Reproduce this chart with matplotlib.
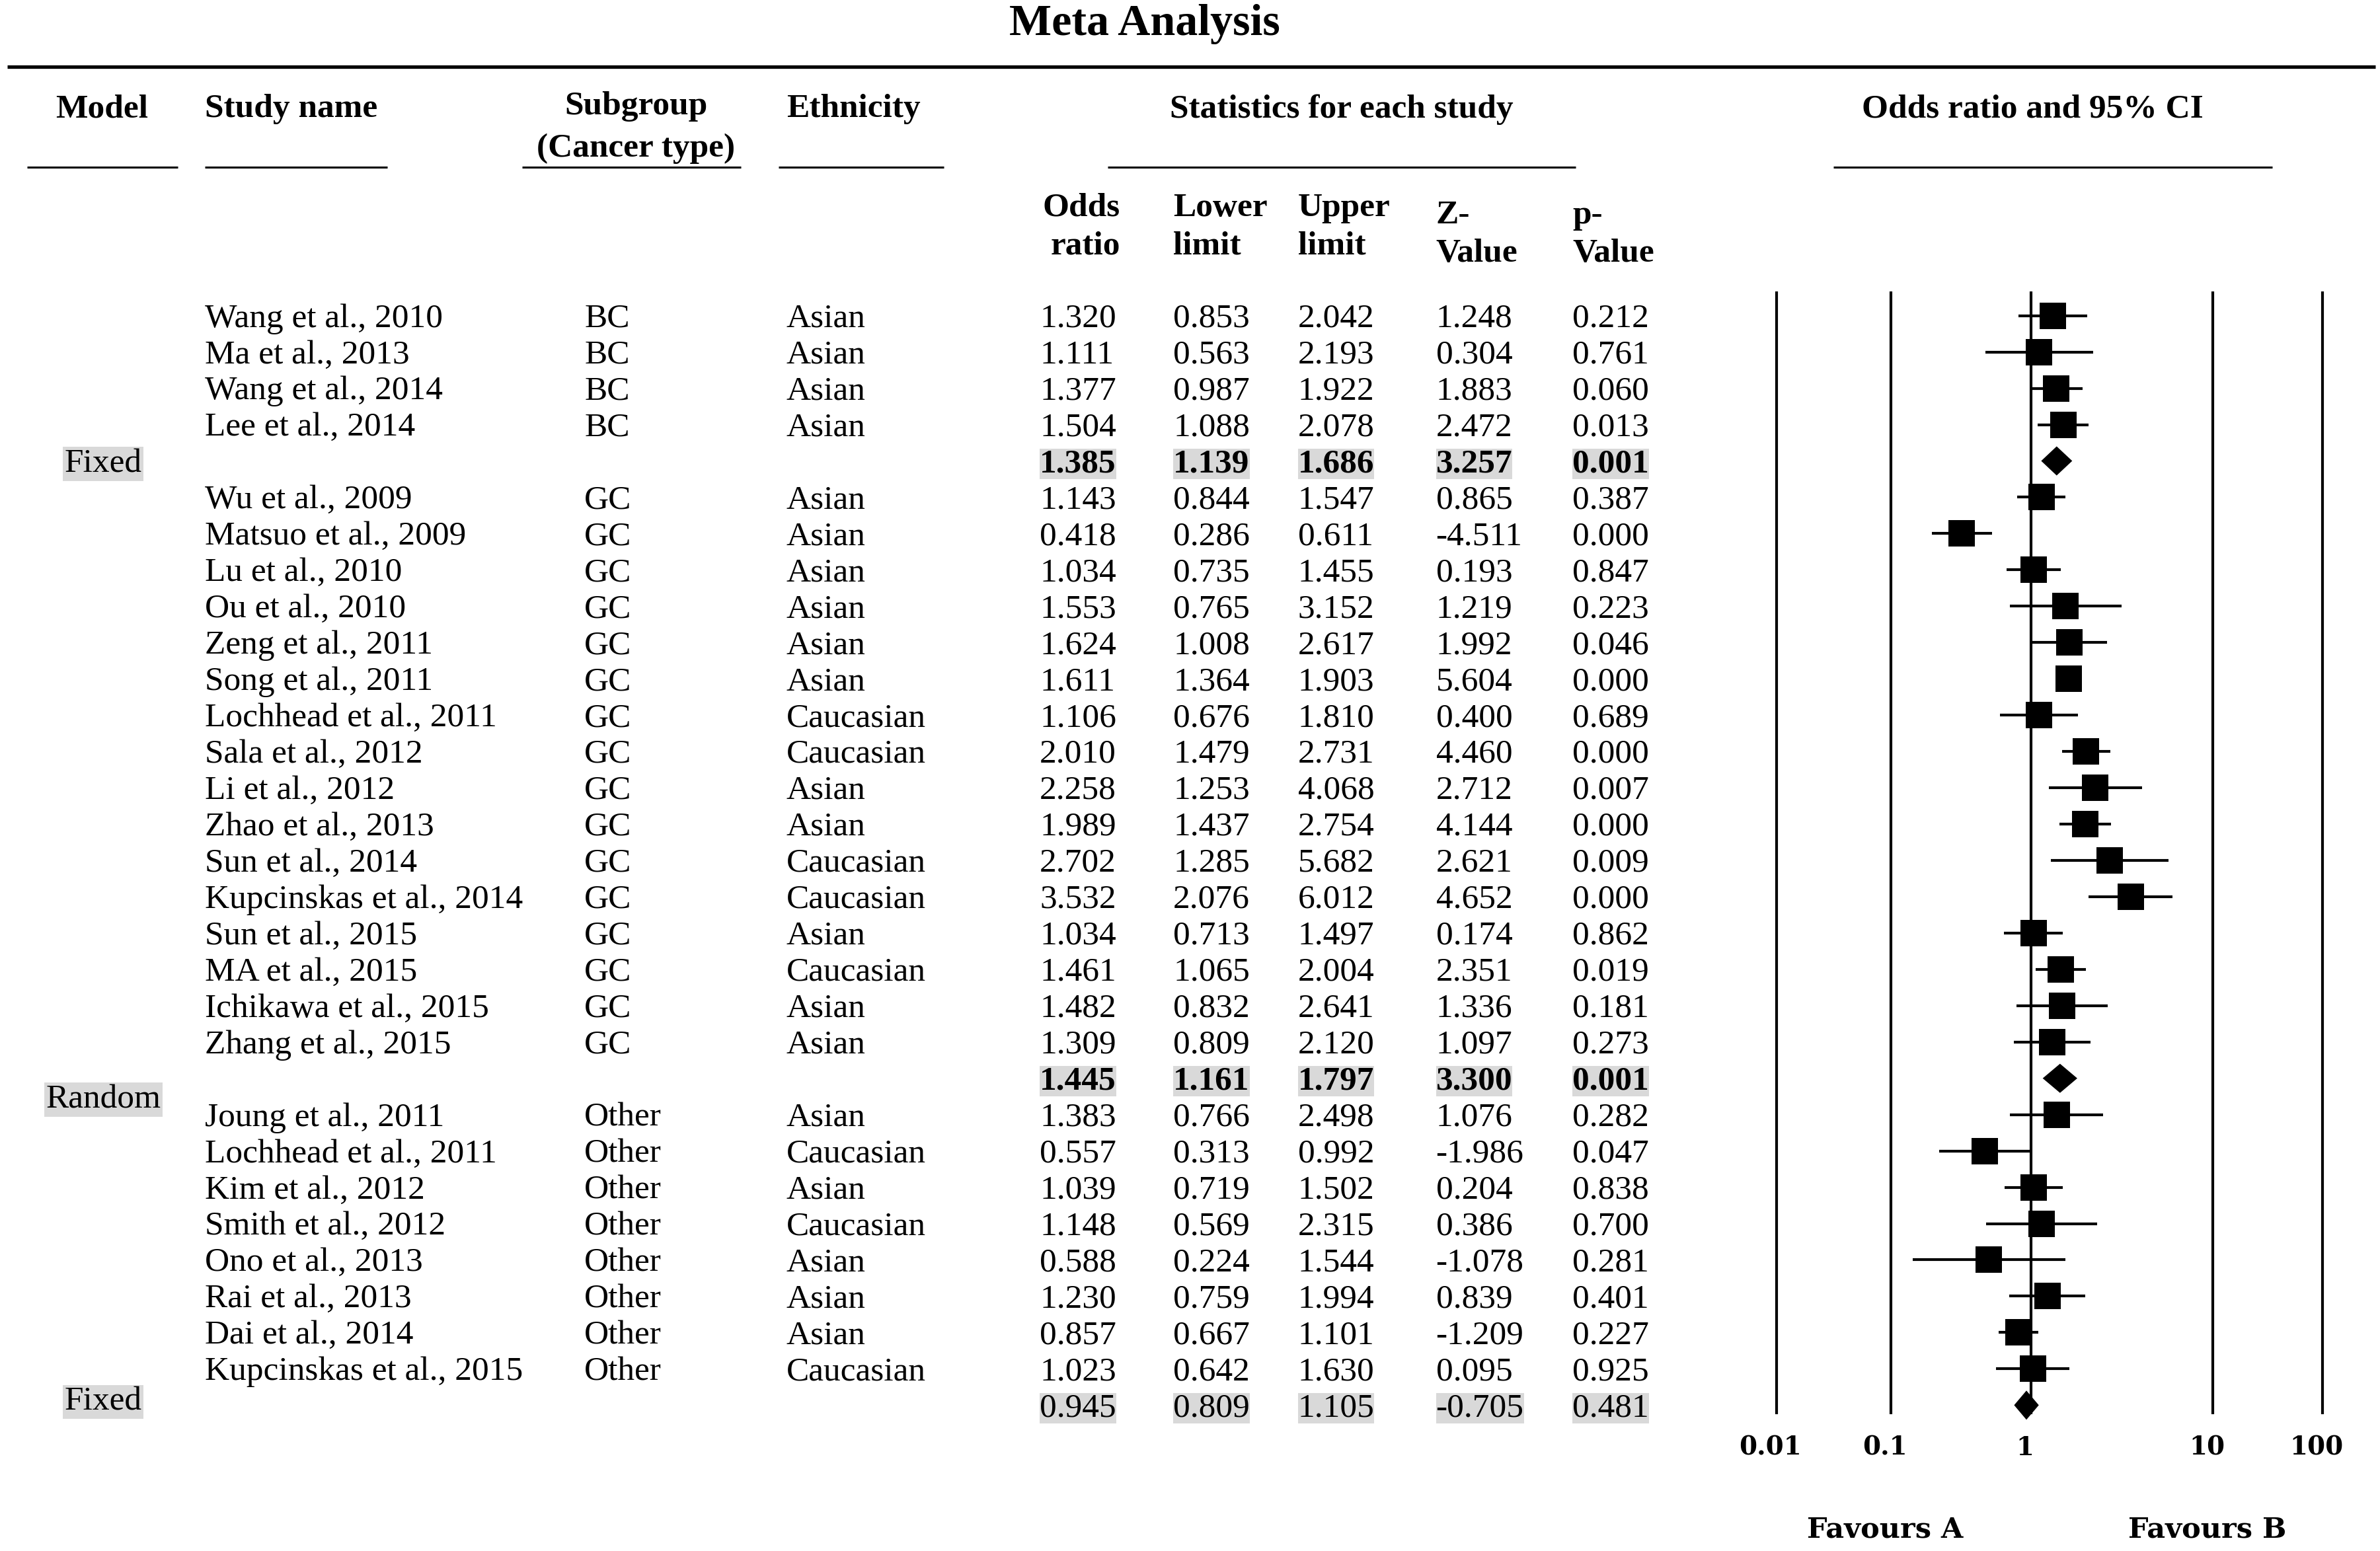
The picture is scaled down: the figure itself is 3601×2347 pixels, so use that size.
import numpy as np
import matplotlib.pyplot as plt
from matplotlib.transforms import offset_copy

# layout units: the reference scaled to 1568 x 1022
W, H = 1568, 1022

# ---- data ----
study_bc = ["Wang et al., 2010", "Ma et al., 2013", "Wang et al., 2014", "Lee et al., 2014"]
eth_bc = ["Asian", "Asian", "Asian", "Asian"]
or_bc = [1.320, 1.111, 1.377, 1.504]
lo_bc = [0.853, 0.563, 0.987, 1.088]
hi_bc = [2.042, 2.193, 1.922, 2.078]
z_bc = [1.248, 0.304, 1.883, 2.472]
p_bc = [0.212, 0.761, 0.060, 0.013]

study_gc = ["Wu et al., 2009", "Matsuo et al., 2009", "Lu et al., 2010", "Ou et al., 2010",
            "Zeng et al., 2011", "Song et al., 2011", "Lochhead et al., 2011", "Sala et al., 2012",
            "Li et al., 2012", "Zhao et al., 2013", "Sun et al., 2014", "Kupcinskas et al., 2014",
            "Sun et al., 2015", "MA et al., 2015", "Ichikawa et al., 2015", "Zhang et al., 2015"]
eth_gc = ["Asian", "Asian", "Asian", "Asian", "Asian", "Asian", "Caucasian", "Caucasian",
          "Asian", "Asian", "Caucasian", "Caucasian", "Asian", "Caucasian", "Asian", "Asian"]
or_gc = [1.143, 0.418, 1.034, 1.553, 1.624, 1.611, 1.106, 2.010, 2.258, 1.989, 2.702, 3.532,
         1.034, 1.461, 1.482, 1.309]
lo_gc = [0.844, 0.286, 0.735, 0.765, 1.008, 1.364, 0.676, 1.479, 1.253, 1.437, 1.285, 2.076,
         0.713, 1.065, 0.832, 0.809]
hi_gc = [1.547, 0.611, 1.455, 3.152, 2.617, 1.903, 1.810, 2.731, 4.068, 2.754, 5.682, 6.012,
         1.497, 2.004, 2.641, 2.120]
z_gc = [0.865, -4.511, 0.193, 1.219, 1.992, 5.604, 0.400, 4.460, 2.712, 4.144, 2.621, 4.652,
        0.174, 2.351, 1.336, 1.097]
p_gc = [0.387, 0.000, 0.847, 0.223, 0.046, 0.000, 0.689, 0.000, 0.007, 0.000, 0.009, 0.000,
        0.862, 0.019, 0.181, 0.273]

study_ot = ["Joung et al., 2011", "Lochhead et al., 2011", "Kim et al., 2012", "Smith et al., 2012",
            "Ono et al., 2013", "Rai et al., 2013", "Dai et al., 2014", "Kupcinskas et al., 2015"]
eth_ot = ["Asian", "Caucasian", "Asian", "Caucasian", "Asian", "Asian", "Asian", "Caucasian"]
or_ot = [1.383, 0.557, 1.039, 1.148, 0.588, 1.230, 0.857, 1.023]
lo_ot = [0.766, 0.313, 0.719, 0.569, 0.224, 0.759, 0.667, 0.642]
hi_ot = [2.498, 0.992, 1.502, 2.315, 1.544, 1.994, 1.101, 1.630]
z_ot = [1.076, -1.986, 0.204, 0.386, -1.078, 0.839, -1.209, 0.095]
p_ot = [0.282, 0.047, 0.838, 0.700, 0.281, 0.401, 0.227, 0.925]

group_names = ["BC", "GC", "Other"]
models = ["Fixed", "Random", "Fixed"]
sum_or = [1.385, 1.445, 0.945]
sum_lo = [1.139, 1.161, 0.809]
sum_hi = [1.686, 1.797, 1.105]
sum_z = [3.257, 3.300, -0.705]
sum_p = [0.001, 0.001, 0.481]
sum_bold = [True, True, False]

tick_labels = ["0.01", "0.1", "1", "10", "100"]
tick_pos = [0.04, 0.17, 1, 10, 40]   # where the reference draws its reference lines

groups = [
    (study_bc, eth_bc, or_bc, lo_bc, hi_bc, z_bc, p_bc),
    (study_gc, eth_gc, or_gc, lo_gc, hi_gc, z_gc, p_gc),
    (study_ot, eth_ot, or_ot, lo_ot, hi_ot, z_ot, p_ot),
]

SERIF = "Liberation Serif"
FS = 37
GRAY = "#d9d9d9"
TXT_DY = 2  # text sits a touch lower than its row centre

def row_y(i):
    return 208 + i * 23.93

fig = plt.figure(figsize=(36.01, 23.47), dpi=100)
bg = fig.add_axes([0, 0, 1, 1])
bg.set_xlim(0, W)
bg.set_ylim(H, 0)
bg.axis("off")

# forest plot axes (log scale, 120 layout px per decade, 1 at x=1338)
fx0, fx1 = 1338 - 1.6 * 120, 1338 + 1.8 * 120
ax = fig.add_axes([fx0 / W, 0, (fx1 - fx0) / W, 1])
ax.set_xscale("log")
ax.set_xlim(10 ** -1.6, 10 ** 1.8)
ax.set_ylim(H, 0)
ax.axis("off")

def txt(x, y, s, **kw):
    kw.setdefault("fontsize", FS)
    kw.setdefault("family", SERIF)
    kw.setdefault("va", "center")
    bg.text(x, y + TXT_DY, s, **kw)

# title and rules
txt(754, 14, "Meta Analysis", fontsize=49, weight="bold", ha="center")
bg.plot([5, 1565], [44, 44], color="black", lw=3.8, solid_capstyle="butt")

txt(67, 70, "Model", weight="bold", ha="center")
txt(135, 70, "Study name", weight="bold", ha="left")
txt(419, 68, "Subgroup", weight="bold", ha="center")
txt(419, 96, "(Cancer type)", weight="bold", ha="center")
txt(518, 70, "Ethnicity", weight="bold", ha="left")
txt(884, 70, "Statistics for each study", weight="bold", ha="center")
txt(1339, 70, "Odds ratio and 95% CI", weight="bold", ha="center")

underlines = [(18, 117), (135, 255), (344, 488), (513, 622), (730, 1038), (1208, 1497)]
for a, b in underlines:
    bg.plot([a, b], [110, 110], color="black", lw=2.2, solid_capstyle="butt")

txt(738, 135, "Odds", weight="bold", ha="right")
txt(738, 160, "ratio", weight="bold", ha="right")
txt(773, 135, "Lower", weight="bold", ha="left")
txt(773, 160, "limit", weight="bold", ha="left")
txt(855, 135, "Upper", weight="bold", ha="left")
txt(855, 160, "limit", weight="bold", ha="left")
txt(946, 140, "Z-", weight="bold", ha="left")
txt(946, 165, "Value", weight="bold", ha="left")
txt(1036, 140, "p-", weight="bold", ha="left")
txt(1036, 165, "Value", weight="bold", ha="left")

num_x = [685, 773, 855, 946, 1036]
model_offset = [0.0, 0.5, -0.17]

# rows
r = 0
for g, (names, eths, ors, los, his, zs, ps) in enumerate(groups):
    for k in range(len(names)):
        y = row_y(r)
        txt(135, y, names[k])
        txt(385, y, group_names[g])
        txt(518, y, eths[k])
        for x, v in zip(num_x, [ors[k], los[k], his[k], zs[k], ps[k]]):
            txt(x, y, f"{v:.3f}")
        ax.hlines(y, los[k], his[k], color="black", lw=3)
        ax.plot(ors[k], y, "s", color="black", ms=29, mew=0)
        r += 1
    # pooled estimate row
    y = row_y(r)
    vals = [sum_or[g], sum_lo[g], sum_hi[g], sum_z[g], sum_p[g]]
    for x, v in zip(num_x, vals):
        txt(x, y, f"{v:.3f}", weight="bold" if sum_bold[g] else "normal",
            bbox=dict(facecolor=GRAY, edgecolor="none", pad=0))
    txt(68, row_y(r + model_offset[g]), models[g], ha="center",
        bbox=dict(facecolor=GRAY, edgecolor="none", pad=2))
    ax.fill([sum_lo[g], sum_or[g], sum_hi[g], sum_or[g]],
            [y, y - 9.6, y, y + 9.6], color="black", lw=0)
    r += 1

# reference lines and labels (labels sit a little left of their lines)
ax.vlines(tick_pos, 192, 932, color="black", lw=3)
lab_tr = offset_copy(ax.transData, fig=fig, x=-9, y=0, units="dots")
for p, lab in zip(tick_pos, tick_labels):
    ax.text(p, 954, lab, ha="center", va="center", family="DejaVu Serif",
            weight="bold", fontsize=28, transform=lab_tr)
ax.text(tick_pos[1], 1008, "Favours A", ha="center", va="center", family="DejaVu Serif",
        weight="bold", fontsize=31, transform=lab_tr)
ax.text(tick_pos[3], 1008, "Favours B", ha="center", va="center", family="DejaVu Serif",
        weight="bold", fontsize=31, transform=lab_tr)

fig.savefig("out.png", dpi=100)
